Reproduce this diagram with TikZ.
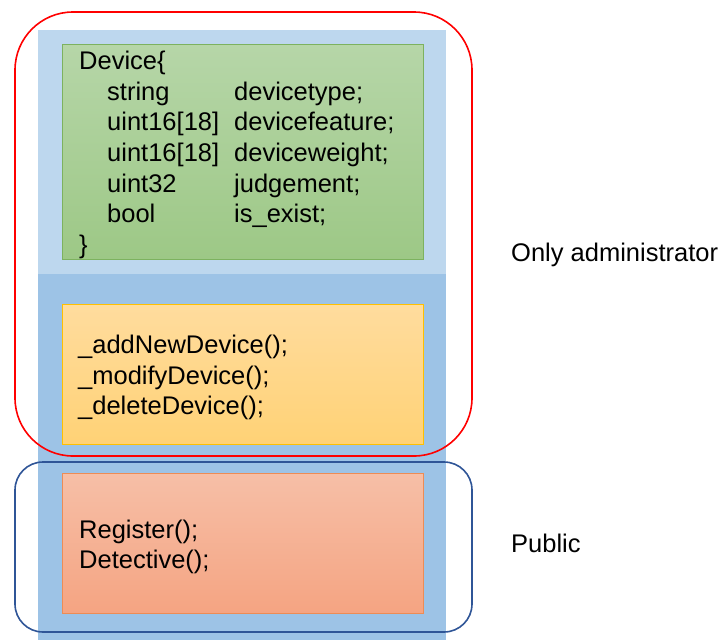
\documentclass[tikz,border=0pt]{standalone}
\usepackage{fontspec}
\setmainfont{Liberation Sans}
\definecolor{panelA}{RGB}{189,215,238}
\definecolor{panelB}{RGB}{157,195,230}
\definecolor{grTop}{RGB}{182,214,168}
\definecolor{grBot}{RGB}{157,200,134}
\definecolor{grLine}{RGB}{125,178,95}
\definecolor{orTop}{RGB}{255,220,158}
\definecolor{orBot}{RGB}{255,210,118}
\definecolor{orLine}{RGB}{255,192,0}
\definecolor{saTop}{RGB}{246,191,167}
\definecolor{saBot}{RGB}{245,164,130}
\definecolor{saLine}{RGB}{237,140,85}
\definecolor{grpBlue}{RGB}{47,85,151}
\begin{document}
\begin{tikzpicture}[x=1pt,y=-1pt,
  txt/.style={anchor=base west,inner sep=0pt,font=\fontsize{25.5}{30.7}\selectfont},
  innerbox/.style={draw,line width=1pt,inner sep=0pt},
  grp/.style={rounded corners=#1,line width=1.6pt}]
\useasboundingbox (0,0) rectangle (720,640);
% panels
\fill[panelA] (38,30) rectangle (446,274);
\fill[panelB] (38,274) rectangle (446,640);
% boxes
\node[innerbox,draw=grLine,top color=grTop,bottom color=grBot,minimum width=361pt,minimum height=215pt] (dev) at (242.5,151.5) {};
\node[innerbox,draw=orLine,top color=orTop,bottom color=orBot,minimum width=361pt,minimum height=140pt] (adm) at (242.5,374) {};
\node[innerbox,draw=saLine,top color=saTop,bottom color=saBot,minimum width=361pt,minimum height=140pt] (pub) at (242.5,543) {};
% device struct text
\node[txt] (l1) at (79,69) {Device\{};
\node[txt] (l2a) at (107,100) {string};
\node[txt] (l2b) at (234,100) {devicetype;};
\node[txt] (l3a) at (107,130.7) {uint16[18]};
\node[txt] (l3b) at (234,130.7) {devicefeature;};
\node[txt] (l4a) at (107,161.4) {uint16[18]};
\node[txt] (l4b) at (234,161.4) {deviceweight;};
\node[txt] (l5a) at (107,192.1) {uint32};
\node[txt] (l5b) at (234,192.1) {judgement;};
\node[txt] (l6a) at (107,222.8) {bool};
\node[txt] (l6b) at (234,222.8) {is\_exist;};
\node[txt] (l7) at (79,253.5) {\}};
% admin functions
\node[txt] (f1) at (78,353.5) {\_addNewDevice();};
\node[txt] (f2) at (78,384.2) {\_modifyDevice();};
\node[txt] (f3) at (78,414.9) {\_deleteDevice();};
% public functions
\node[txt] (p1) at (79,538) {Register();};
\node[txt] (p2) at (79,568.5) {Detective();};
% groups
\draw[grp=58pt,draw=red] (15,12) rectangle (472,456);
\draw[grp=28pt,draw=grpBlue] (15,462) rectangle (472,632);
\node[txt] (oa) at (511,261.5) {Only administrator};
\node[txt] (pu) at (511,552) {Public};
\end{tikzpicture}
\end{document}
